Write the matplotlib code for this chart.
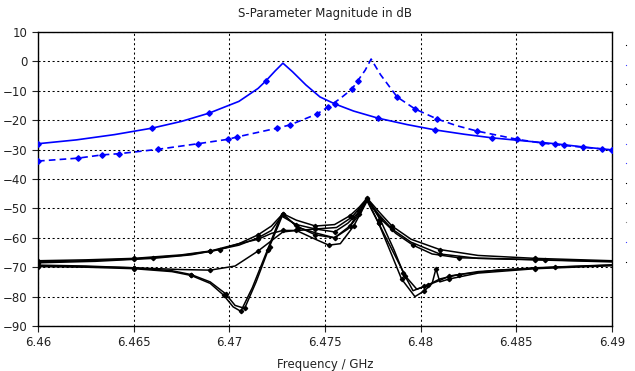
import numpy as np
import matplotlib
matplotlib.use("Agg")
import matplotlib.pyplot as plt
from matplotlib.lines import Line2D

# blue curves (S11 / S22 style)
f_s11 = [6.46, 6.462, 6.464, 6.46596, 6.4675, 6.46894, 6.4705, 6.4715, 6.4719, 6.4724, 6.4728,
         6.4733, 6.4740, 6.47474, 6.47553, 6.4765, 6.47777, 6.4793, 6.48075, 6.4823, 6.48373,
         6.4855, 6.48702, 6.4885, 6.49]
db_s11 = [-28.0, -26.7, -24.9, -22.7, -20.4, -17.6, -13.6, -9.2, -6.7, -3.2, -0.6,
          -3.5, -8.0, -12.1, -14.5, -16.9, -19.3, -21.5, -23.3, -24.8, -26.0,
          -27.1, -28.0, -29.1, -30.1]
mk_s11 = [0, 3, 5, 8, 14, 16, 18, 20, 22, 24]

f_s22 = [6.46, 6.4621, 6.46335, 6.46423, 6.46627, 6.46836, 6.46993, 6.4704, 6.4725, 6.47317,
         6.47458, 6.47516, 6.4758, 6.47641, 6.4767, 6.4771, 6.47741, 6.4779, 6.47877, 6.47971,
         6.48086, 6.4819, 6.48295, 6.48504, 6.48635, 6.4875, 6.4885, 6.4895, 6.49]
db_s22 = [-33.9, -32.9, -31.8, -31.4, -29.9, -28.0, -26.5, -25.7, -22.7, -21.6,
          -17.9, -15.5, -12.6, -9.4, -6.7, -3.0, 0.8, -4.5, -12.1, -16.2,
          -19.6, -21.9, -23.7, -26.5, -27.8, -28.6, -29.2, -29.8, -30.2]
mk_s22 = [0, 1, 2, 3, 4, 5, 6, 7, 8, 9, 10, 11, 13, 14, 18, 19, 20, 22, 23, 24, 25, 26, 27, 28]

# black curves (coupling / isolation terms)
f_k1 = [6.46, 6.4625, 6.465, 6.4675, 6.469, 6.4705, 6.4715, 6.4722, 6.4728, 6.4735, 6.4745,
        6.4755, 6.4763, 6.4768, 6.4772, 6.4778, 6.4785, 6.4795, 6.481, 6.483, 6.486, 6.49]
db_k1 = [-67.8, -67.5, -67.0, -65.8, -64.5, -62.0, -59.0, -56.0, -51.8, -54.0, -56.0,
         -55.5, -52.5, -49.5, -46.5, -51.0, -56.0, -60.5, -64.0, -66.0, -67.0, -67.8]
db_k2 = [-68.2, -67.8, -67.2, -66.0, -64.6, -62.5, -60.0, -57.5, -52.0, -56.0, -59.0,
         -60.0, -56.0, -51.0, -46.8, -52.0, -57.0, -61.5, -65.5, -67.0, -67.5, -68.2]

f_k3 = [6.46, 6.4625, 6.465, 6.4675, 6.469, 6.4703, 6.4715, 6.4728, 6.4735, 6.4745, 6.4752,
        6.4758, 6.4765, 6.4772, 6.4778, 6.4785, 6.4792, 6.4798, 6.4804, 6.481, 6.482, 6.484,
        6.487, 6.49]
db_k3 = [-69.5, -69.8, -70.2, -70.8, -71.0, -69.6, -64.5, -58.0, -57.5, -60.5, -62.5,
         -62.0, -56.0, -47.5, -55.0, -64.0, -73.0, -77.5, -76.0, -74.0, -72.5, -71.0,
         -70.0, -69.3]

f_k4 = [6.46, 6.4625, 6.465, 6.467, 6.468, 6.469, 6.4697, 6.4702, 6.4706, 6.4712, 6.472,
        6.4727, 6.4735, 6.4745, 6.4755, 6.4762, 6.4768, 6.4772, 6.4778, 6.4785, 6.479,
        6.4797, 6.4802, 6.4806, 6.4808, 6.481, 6.4815, 6.483, 6.486, 6.49]
db_k4 = [-69.8, -70.0, -70.5, -71.5, -72.8, -75.5, -79.5, -83.5, -85.0, -77.0, -64.0,
         -52.5, -55.5, -57.0, -58.0, -55.0, -51.0, -47.0, -55.0, -66.0, -74.0,
         -80.0, -78.0, -75.5, -70.5, -75.0, -74.0, -72.0, -70.5, -69.5]

f_k5 = [6.46, 6.4625, 6.465, 6.467, 6.468, 6.469, 6.4698, 6.4703, 6.4708, 6.4714, 6.4721,
        6.4728, 6.4736, 6.4746, 6.4755, 6.4762, 6.4768, 6.4772, 6.4779, 6.4786, 6.4791,
        6.4796, 6.4802, 6.481, 6.4815, 6.483, 6.486, 6.49]
db_k5 = [-69.3, -69.6, -70.2, -71.2, -72.5, -75.0, -79.0, -83.0, -84.0, -75.0, -63.0,
         -52.0, -56.5, -58.5, -60.0, -57.0, -52.0, -46.5, -54.0, -64.0, -72.0,
         -78.0, -76.5, -74.5, -73.0, -71.5, -70.2, -69.2]

f_k6 = [6.46, 6.463, 6.466, 6.468, 6.4695, 6.4705, 6.4715, 6.4722, 6.4728, 6.4736, 6.4745,
        6.4756, 6.4764, 6.4772, 6.4779, 6.4787, 6.4796, 6.4806, 6.482, 6.4835, 6.4865, 6.49]
db_k6 = [-68.5, -68.0, -67.0, -65.8, -64.0, -62.0, -60.5, -58.5, -57.5, -57.5, -57.0,
         -56.5, -53.0, -47.0, -53.5, -58.5, -62.5, -65.5, -66.8, -67.0, -67.5, -68.0]

black_curves = [(f_k1, db_k1), (f_k1, db_k2), (f_k3, db_k3), (f_k4, db_k4),
                (f_k5, db_k5), (f_k6, db_k6)]

legend_colors = ["black", "#4040ff", "black", "black", "black", "#4040ff",
                 "#4040ff", "black", "black", "#888888", "#4040ff", "black"]

fig = plt.figure(figsize=(6.35, 3.71), dpi=100)
ax = fig.add_axes([38 / 635, 1 - 326 / 371, 574 / 635, 294 / 371])

for i, (f, d) in enumerate(black_curves):
    ax.plot(f, d, color="black", lw=1.1, marker="D", ms=2.2,
            markevery=list(range(0, len(f), 2)), zorder=3)

ax.plot(f_s11, db_s11, color="#0000ff", lw=1.2, marker="D", ms=2.8, markevery=mk_s11, zorder=4)
ax.plot(f_s22, db_s22, color="#0000ff", lw=1.2, ls=(0, (4, 2.5)), marker="D", ms=2.8,
        markevery=mk_s22, zorder=4)

ax.set_xlim(6.46, 6.49)
ax.set_ylim(-90, 10)
ax.set_xticks([6.46, 6.465, 6.47, 6.475, 6.48, 6.485, 6.49])
ax.set_xticklabels(["6.46", "6.465", "6.47", "6.475", "6.48", "6.485", "6.49"])
ax.set_yticks(np.arange(-90, 11, 10))
ax.grid(True, color="black", ls=(0, (2, 2.5)), lw=0.75)
ax.tick_params(labelsize=8.5, colors="#222222", length=4, width=0.8, direction="out")
for s in ax.spines.values():
    s.set_linewidth(1.0)

ax.set_title("S-Parameter Magnitude in dB", fontsize=8.5, color="#222222", pad=11)
ax.set_xlabel("Frequency / GHz", fontsize=8.5, color="#222222", labelpad=6)

# clipped legend remnants at the right edge
for i, c in enumerate(legend_colors):
    fig.add_artist(Line2D([626 / 635], [1 - (45 + 19.7 * i) / 371], marker="s", ms=0.8,
                          color=c, mec=c, mew=0, ls="none"))

plt.savefig("out.png", dpi=100)
